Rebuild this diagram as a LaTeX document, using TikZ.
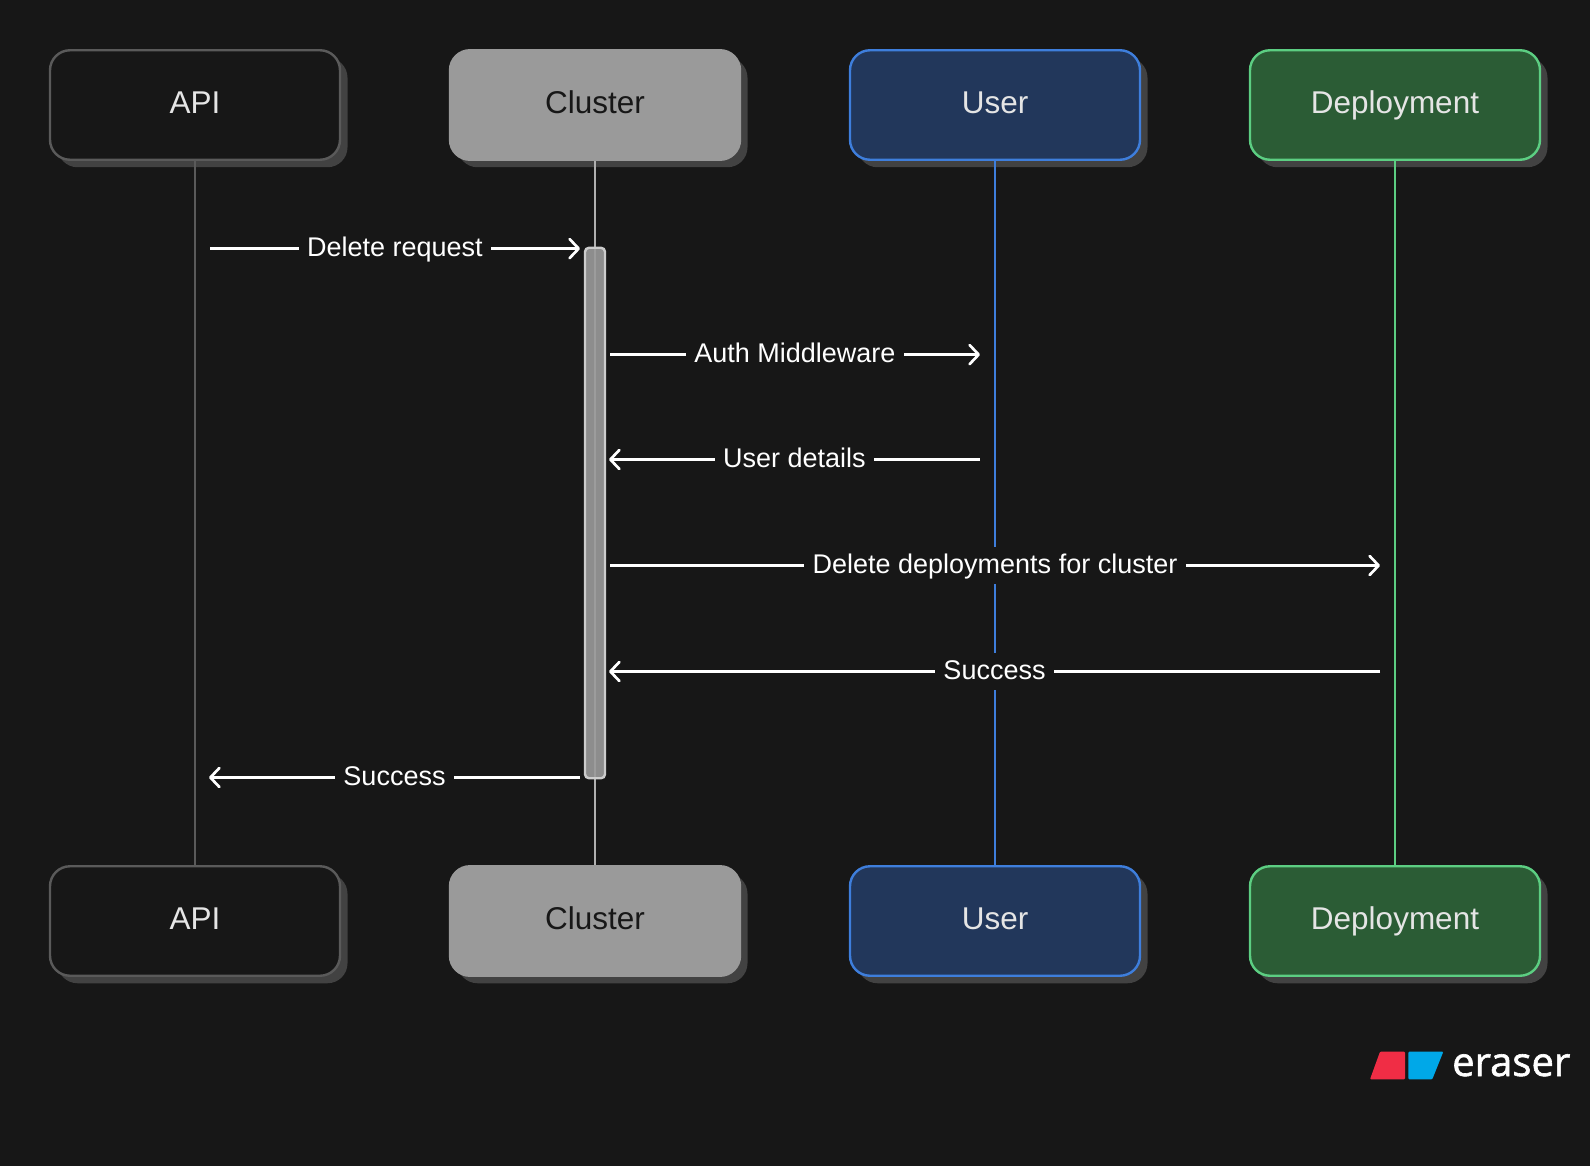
\documentclass[tikz,border=0pt]{standalone}
\usepackage{fontspec}
\setmainfont{Liberation Sans}
\newfontfamily\logofont[FakeBold=1.5]{Open Sans}
\usetikzlibrary{arrows.meta}
\usetikzlibrary{shadows}
\definecolor{canvas}{HTML}{171717}
\definecolor{boxshadow}{HTML}{424242}
\definecolor{apiline}{HTML}{5A5A5A}
\definecolor{clusterfill}{HTML}{9A9A9A}
\definecolor{clusterline}{HTML}{B0B0B0}
\definecolor{userfill}{HTML}{22375B}
\definecolor{userline}{HTML}{3E7EDC}
\definecolor{depfill}{HTML}{2B5C35}
\definecolor{depline}{HTML}{5CCE82}
\definecolor{logored}{HTML}{F02D45}
\definecolor{logoblue}{HTML}{00A8E8}
\tikzset{
	actor/.style={draw, line width=2.4pt, rounded corners=20pt, minimum width=290pt, minimum height=109.5pt,
		inner sep=0pt, text height=22pt, text depth=5.4pt, font=\fontsize{31.5}{36}\selectfont,
		general shadow={shadow xshift=7.5pt, shadow yshift=-7.5pt, fill=boxshadow}},
	apibox/.style={actor, draw=apiline, fill=canvas, text=white!90!black},
	clusterbox/.style={actor, draw=clusterfill, fill=clusterfill, text=canvas},
	userbox/.style={actor, draw=userline, fill=userfill, text=white!90!black},
	depbox/.style={actor, draw=depline, fill=depfill, text=white!90!black},
	lifeline/.style={line width=2.7pt},
	msg/.style={draw=white, line width=2.7pt, -{Straight Barb[length=9pt, width=19pt, line width=2.7pt, round]}},
	msglabel/.style={fill=canvas, text=white, inner xsep=8.5pt, inner ysep=5.7pt, text height=21pt, text depth=5pt,
		font=\fontsize{27}{32}\selectfont},
}

\begin{document}
\begin{tikzpicture}[x=1pt, y=-1pt]
	\useasboundingbox (0,0) rectangle (1590,1166);
	\fill[canvas] (0,0) rectangle (1590,1166);

	\node[apibox] (apitop) at (195,105) {API};	% top row
	\node[clusterbox] (clustertop) at (595,105) {Cluster};
	\node[userbox] (usertop) at (995,105) {User};
	\node[depbox] (deptop) at (1395,105) {Deployment};

	\node[apibox] (apibot) at (195,921) {API};	% bottom row
	\node[clusterbox] (clusterbot) at (595,921) {Cluster};
	\node[userbox] (userbot) at (995,921) {User};
	\node[depbox] (depbot) at (1395,921) {Deployment};

	\draw[apiline, lifeline] (apitop) -- (apibot);	% lifelines
	\draw[clusterline, lifeline] (clustertop) -- (clusterbot);
	\draw[userline, lifeline] (usertop) -- (userbot);
	\draw[depline, lifeline] (deptop) -- (depbot);

	\node[draw=white!80!black, fill=clusterfill, fill opacity=.9, line width=2.4pt, rounded corners=4pt, inner sep=0pt,
		minimum width=20pt, minimum height=530.5pt] (bar) at (595,513) {};

	\coordinate (a1) at (210,248.6);	% ends of the messages
	\coordinate (c1) at (580,248.6);
	\coordinate (c2) at (610,354.6);
	\coordinate (u2) at (980,354.6);
	\coordinate (u3) at (980,459.5);
	\coordinate (c3) at (609,459.5);
	\coordinate (c4) at (610,565.5);
	\coordinate (d4) at (1380,565.5);
	\coordinate (d5) at (1380,671.5);
	\coordinate (c5) at (609,671.5);
	\coordinate (c6) at (580,777.5);
	\coordinate (a6) at (209,777.5);

	\draw[msg] (a1) -- node[msglabel] (m1) {Delete request} (c1);
	\draw[msg] (c2) -- node[msglabel] (m2) {Auth Middleware} (u2);
	\draw[msg] (u3) -- node[msglabel] (m3) {User details} (c3);
	\draw[msg] (c4) -- node[msglabel] (m4) {Delete deployments for cluster} (d4);
	\draw[msg] (d5) -- node[msglabel] (m5) {Success} (c5);
	\draw[msg] (c6) -- node[msglabel] (m6) {Success} (a6);

	\fill[logored, rounded corners=1pt] (1380,1051.7) -- (1405,1051.7) -- (1405,1079.3) -- (1370,1079.3) -- cycle;	% logo
	\fill[logoblue, rounded corners=1pt] (1408.3,1051.7) -- (1443.3,1051.7) -- (1432.3,1079.3) -- (1408.3,1079.3) -- cycle;
	\node[anchor=base west, inner sep=0pt, text=white, font=\logofont\fontsize{40}{44}\selectfont] (logotext) at (1452,1076) {eraser};
\end{tikzpicture}
\end{document}
